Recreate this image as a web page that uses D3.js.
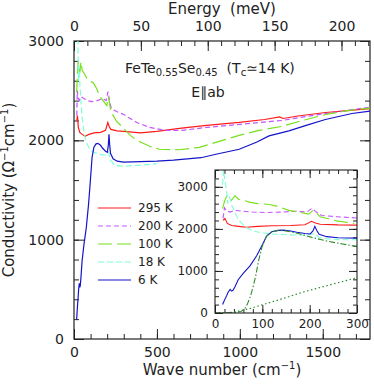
<!DOCTYPE html>
<html><head><meta charset="utf-8">
<script src="https://cdn.jsdelivr.net/npm/d3@7/dist/d3.min.js"></script>
<style>
body{margin:0;background:#fff}
svg{display:block}
text{font-family:"DejaVu Sans",sans-serif;fill:#222}
</style>
</head><body>
<svg id="c" width="374" height="386"></svg>
<script>
// ---- data ----
const temps = ["295 K","200 K","100 K","18 K","6 K"];
const colors = ["#ff1a1a","#c455ff","#77e01a","#7fffd8","#1414c8"];
const dashes = [null,"5,3","14,5","6,3",null];

const red295 = [[17,2200],[21,2250],[26,2130],[35,2080],[50,2060],[66,2040],[90,2060],[120,2075],[160,2080],[190,2100],[204,2180],[212,2140],[222,2110],[260,2095],[300,2090],[400,2075],[500,2090],[636,2120],[800,2150],[996,2180],[1150,2210],[1240,2235],[1260,2220],[1350,2245],[1518,2280],[1650,2300],[1785,2320]];
const purple200 = [[17,2250],[20,2500],[24,2430],[32,2400],[42,2440],[60,2420],[80,2400],[108,2390],[140,2400],[173,2420],[194,2400],[205,2490],[214,2400],[225,2320],[257,2290],[300,2260],[378,2180],[456,2130],[550,2100],[650,2100],[800,2130],[996,2160],[1254,2200],[1400,2240],[1518,2270],[1650,2300],[1785,2335]];
const green100 = [[16,2480],[20,2650],[25,2790],[30,2720],[35,2680],[42,2790],[50,2700],[60,2680],[75,2630],[90,2600],[116,2580],[137,2520],[156,2440],[180,2390],[198,2350],[207,2440],[215,2370],[222,2290],[257,2190],[294,2130],[340,2050],[378,2000],[456,1940],[516,1910],[636,1905],[756,1930],[876,1990],[996,2050],[1116,2100],[1254,2140],[1356,2190],[1518,2260],[1650,2300],[1785,2325]];
const cyan18 = [[16,3050],[18,3400],[21,3150],[24,2950],[27,2600],[31,2750],[36,2550],[42,2400],[48,2250],[55,2150],[66,2030],[80,1960],[96,1910],[120,1880],[150,1860],[190,1850],[208,1880],[220,1800],[240,1760],[260,1745],[300,1740],[400,1750],[500,1765]];
const blue6 = [[16,200],[19,280],[21,330],[25,420],[28,500],[32,560],[35,520],[38,540],[42,620],[49,790],[60,950],[74,1120],[88,1360],[99,1600],[109,1830],[120,1930],[133,1965],[144,1970],[160,1950],[173,1920],[190,1890],[201,1880],[207,1950],[211,2060],[215,1960],[220,1870],[236,1815],[260,1790],[300,1780],[400,1785],[500,1790],[600,1800],[700,1815],[766,1825],[856,1860],[996,1910],[1100,1980],[1176,2045],[1296,2095],[1400,2150],[1516,2210],[1676,2270],[1785,2295]];
const fitDashDot = [[0,0],[20,5],[40,15],[55,35],[62,90],[68,200],[74,370],[80,600],[86,880],[92,1240],[99,1560],[109,1830],[120,1930],[135,1965],[150,1950],[173,1900],[201,1810],[236,1710],[270,1640],[300,1580]];
const fitDotted = [[15,0],[40,20],[75,110],[116,250],[137,320],[187,500],[240,660],[300,840]];
const series = [red295, purple200, green100, cyan18, blue6];

const mainXTicks = [0,500,1000,1500];
const mainYTicks = [0,1000,2000,3000];
const energyTicks = [0,50,100,150,200];
const insetXTicks = [0,100,200,300];
const insetYTicks = [0,1000,2000,3000];

// ---- layout ----
const svg = d3.select("#c");
const M = {l:74, r:370, t:41, b:339};
const I = {l:215, r:357, t:170, b:313};
const CM_PER_MEV = 8.0655;

const x = d3.scaleLinear().domain([0,1785]).range([M.l,M.r]);
const y = d3.scaleLinear().domain([0,3000]).range([M.b,M.t]);
const xE = d3.scaleLinear().domain([0,1785/CM_PER_MEV]).range([M.l,M.r]);
const xi = d3.scaleLinear().domain([0,300]).range([I.l,I.r]);
const yi = d3.scaleLinear().domain([0,3400]).range([I.b,I.t]);

const defs = svg.append("defs");
defs.append("clipPath").attr("id","cm").append("rect").attr("x",M.l).attr("y",M.t).attr("width",M.r-M.l).attr("height",M.b-M.t);
defs.append("clipPath").attr("id","ci").append("rect").attr("x",I.l).attr("y",I.t).attr("width",I.r-I.l).attr("height",I.b-I.t);

function axis(g, ax){ g.call(ax); g.select(".domain").remove(); g.selectAll("line").attr("stroke","#222"); g.selectAll("text").attr("fill","#222"); }

function drawAxes(xs, ys, box, xMaj, xMin, yMaj, yMin, long, short, padX, padY, fs){
  const gb = svg.append("g").attr("transform",`translate(0,${box.b})`);
  axis(gb, d3.axisBottom(xs).tickValues(xMin).tickSize(-short).tickFormat(""));
  const gb2 = svg.append("g").attr("transform",`translate(0,${box.b})`);
  axis(gb2, d3.axisBottom(xs).tickValues(xMaj).tickSize(-long).tickPadding(padX).tickFormat(d3.format("d")));
  gb2.selectAll("text").style("font-size",fs+"px");
  const gl = svg.append("g").attr("transform",`translate(${box.l},0)`);
  axis(gl, d3.axisLeft(ys).tickValues(yMin).tickSize(-short).tickFormat(""));
  const gl2 = svg.append("g").attr("transform",`translate(${box.l},0)`);
  axis(gl2, d3.axisLeft(ys).tickValues(yMaj).tickSize(-long).tickPadding(padY).tickFormat(d3.format("d")));
  gl2.selectAll("text").style("font-size",fs+"px");
  const gr = svg.append("g").attr("transform",`translate(${box.r},0)`);
  axis(gr, d3.axisRight(ys).tickValues(yMin).tickSize(-short).tickFormat(""));
  const gr2 = svg.append("g").attr("transform",`translate(${box.r},0)`);
  axis(gr2, d3.axisRight(ys).tickValues(yMaj).tickSize(-long).tickFormat(""));
}

// main axes
drawAxes(x, y, M, mainXTicks, d3.range(0,1786,100), mainYTicks, d3.range(0,3001,200), 10, 5, 8, 10, 14);
// top energy axis
const gt = svg.append("g").attr("transform",`translate(0,${M.t})`);
axis(gt, d3.axisTop(xE).tickValues(d3.range(0,221,10)).tickSize(-5).tickFormat(""));
const gt2 = svg.append("g").attr("transform",`translate(0,${M.t})`);
axis(gt2, d3.axisTop(xE).tickValues(energyTicks).tickSize(-10).tickPadding(10).tickFormat(d3.format("d")));
gt2.selectAll("text").style("font-size","14px");

// main frame
svg.append("rect").attr("x",M.l).attr("y",M.t).attr("width",M.r-M.l).attr("height",M.b-M.t)
  .attr("fill","none").attr("stroke","#222").attr("stroke-width",1.2);

// main curves
const lineM = d3.line().x(d=>x(d[0])).y(d=>y(d[1]));
const gm = svg.append("g").attr("clip-path","url(#cm)");
series.forEach((s,i)=>{
  gm.append("path").attr("d",lineM(s)).attr("fill","none").attr("stroke",colors[i])
    .attr("stroke-width",1.2).attr("stroke-dasharray",dashes[i]);
});

// axis titles
svg.append("text").attr("x",(M.l+M.r)/2).attr("y",14).attr("text-anchor","middle").style("font-size","15px")
  .text("Energy\u00a0\u00a0(meV)");
const xt = svg.append("text").attr("x",(M.l+M.r)/2).attr("y",375).attr("text-anchor","middle").style("font-size","15px");
xt.append("tspan").text("Wave number (cm");
xt.append("tspan").attr("dy",-6).style("font-size","10px").text("\u22121");
xt.append("tspan").attr("dy",6).text(")");
const yt = svg.append("text").attr("transform",`translate(14,${(M.t+M.b)/2}) rotate(-90)`).attr("text-anchor","middle").style("font-size","15px");
yt.append("tspan").text("Conductivity (\u03a9");
yt.append("tspan").attr("dy",-6).style("font-size","10px").text("\u22121");
yt.append("tspan").attr("dy",6).text("cm");
yt.append("tspan").attr("dy",-6).style("font-size","10px").text("\u22121");
yt.append("tspan").attr("dy",6).text(")");

// title
const tt = svg.append("text").attr("x",125).attr("y",73).style("font-size","14px");
tt.append("tspan").text("FeTe");
tt.append("tspan").attr("dy",3).style("font-size","10px").text("0.55");
tt.append("tspan").attr("dy",-3).text("Se");
tt.append("tspan").attr("dy",3).style("font-size","10px").text("0.45");
tt.append("tspan").attr("dy",-3).text("\u00a0\u00a0(T");
tt.append("tspan").attr("dy",3).style("font-size","10px").text("c");
tt.append("tspan").attr("dy",-3).text("\u224314 K)");
svg.append("text").attr("x",208).attr("y",97).attr("text-anchor","middle").style("font-size","14px").text("E\u2225ab");

// legend
const lg = svg.append("g");
temps.forEach((t,i)=>{
  const yy = 208 + i*18;
  lg.append("line").attr("x1",98).attr("x2",131).attr("y1",yy).attr("y2",yy)
    .attr("stroke",colors[i]).attr("stroke-width",1.2).attr("stroke-dasharray",dashes[i]);
  lg.append("text").attr("x",138).attr("y",yy).attr("dy","0.35em").style("font-size","12px").text(t);
});

// inset
svg.append("rect").attr("x",I.l).attr("y",I.t).attr("width",I.r-I.l).attr("height",I.b-I.t).attr("fill","#fff");
drawAxes(xi, yi, I, insetXTicks, d3.range(0,301,20), insetYTicks, d3.range(0,3401,200), 8, 4, 6, 7, 12);
const gtI = svg.append("g").attr("transform",`translate(0,${I.t})`);
axis(gtI, d3.axisTop(xi).tickValues(d3.range(0,301,20)).tickSize(-4).tickFormat(""));
const gtI2 = svg.append("g").attr("transform",`translate(0,${I.t})`);
axis(gtI2, d3.axisTop(xi).tickValues(insetXTicks).tickSize(-8).tickFormat(""));
const lineI = d3.line().x(d=>xi(d[0])).y(d=>yi(d[1]));
const gi = svg.append("g").attr("clip-path","url(#ci)");
gi.append("path").attr("d",lineI(fitDotted)).attr("fill","none").attr("stroke","#2e8b2e").attr("stroke-width",1.2).attr("stroke-dasharray","1.5,2.5");
series.forEach((s,i)=>{
  gi.append("path").attr("d",lineI(s.filter(d=>d[0]<=320))).attr("fill","none").attr("stroke",colors[i])
    .attr("stroke-width",1.1).attr("stroke-dasharray",dashes[i]);
});
gi.append("path").attr("d",lineI(fitDashDot)).attr("fill","none").attr("stroke","#2e8b2e").attr("stroke-width",1.1).attr("stroke-dasharray","6,2,1.5,2");
svg.append("rect").attr("x",I.l).attr("y",I.t).attr("width",I.r-I.l).attr("height",I.b-I.t)
  .attr("fill","none").attr("stroke","#222").attr("stroke-width",1.1);
</script>
</body></html>
